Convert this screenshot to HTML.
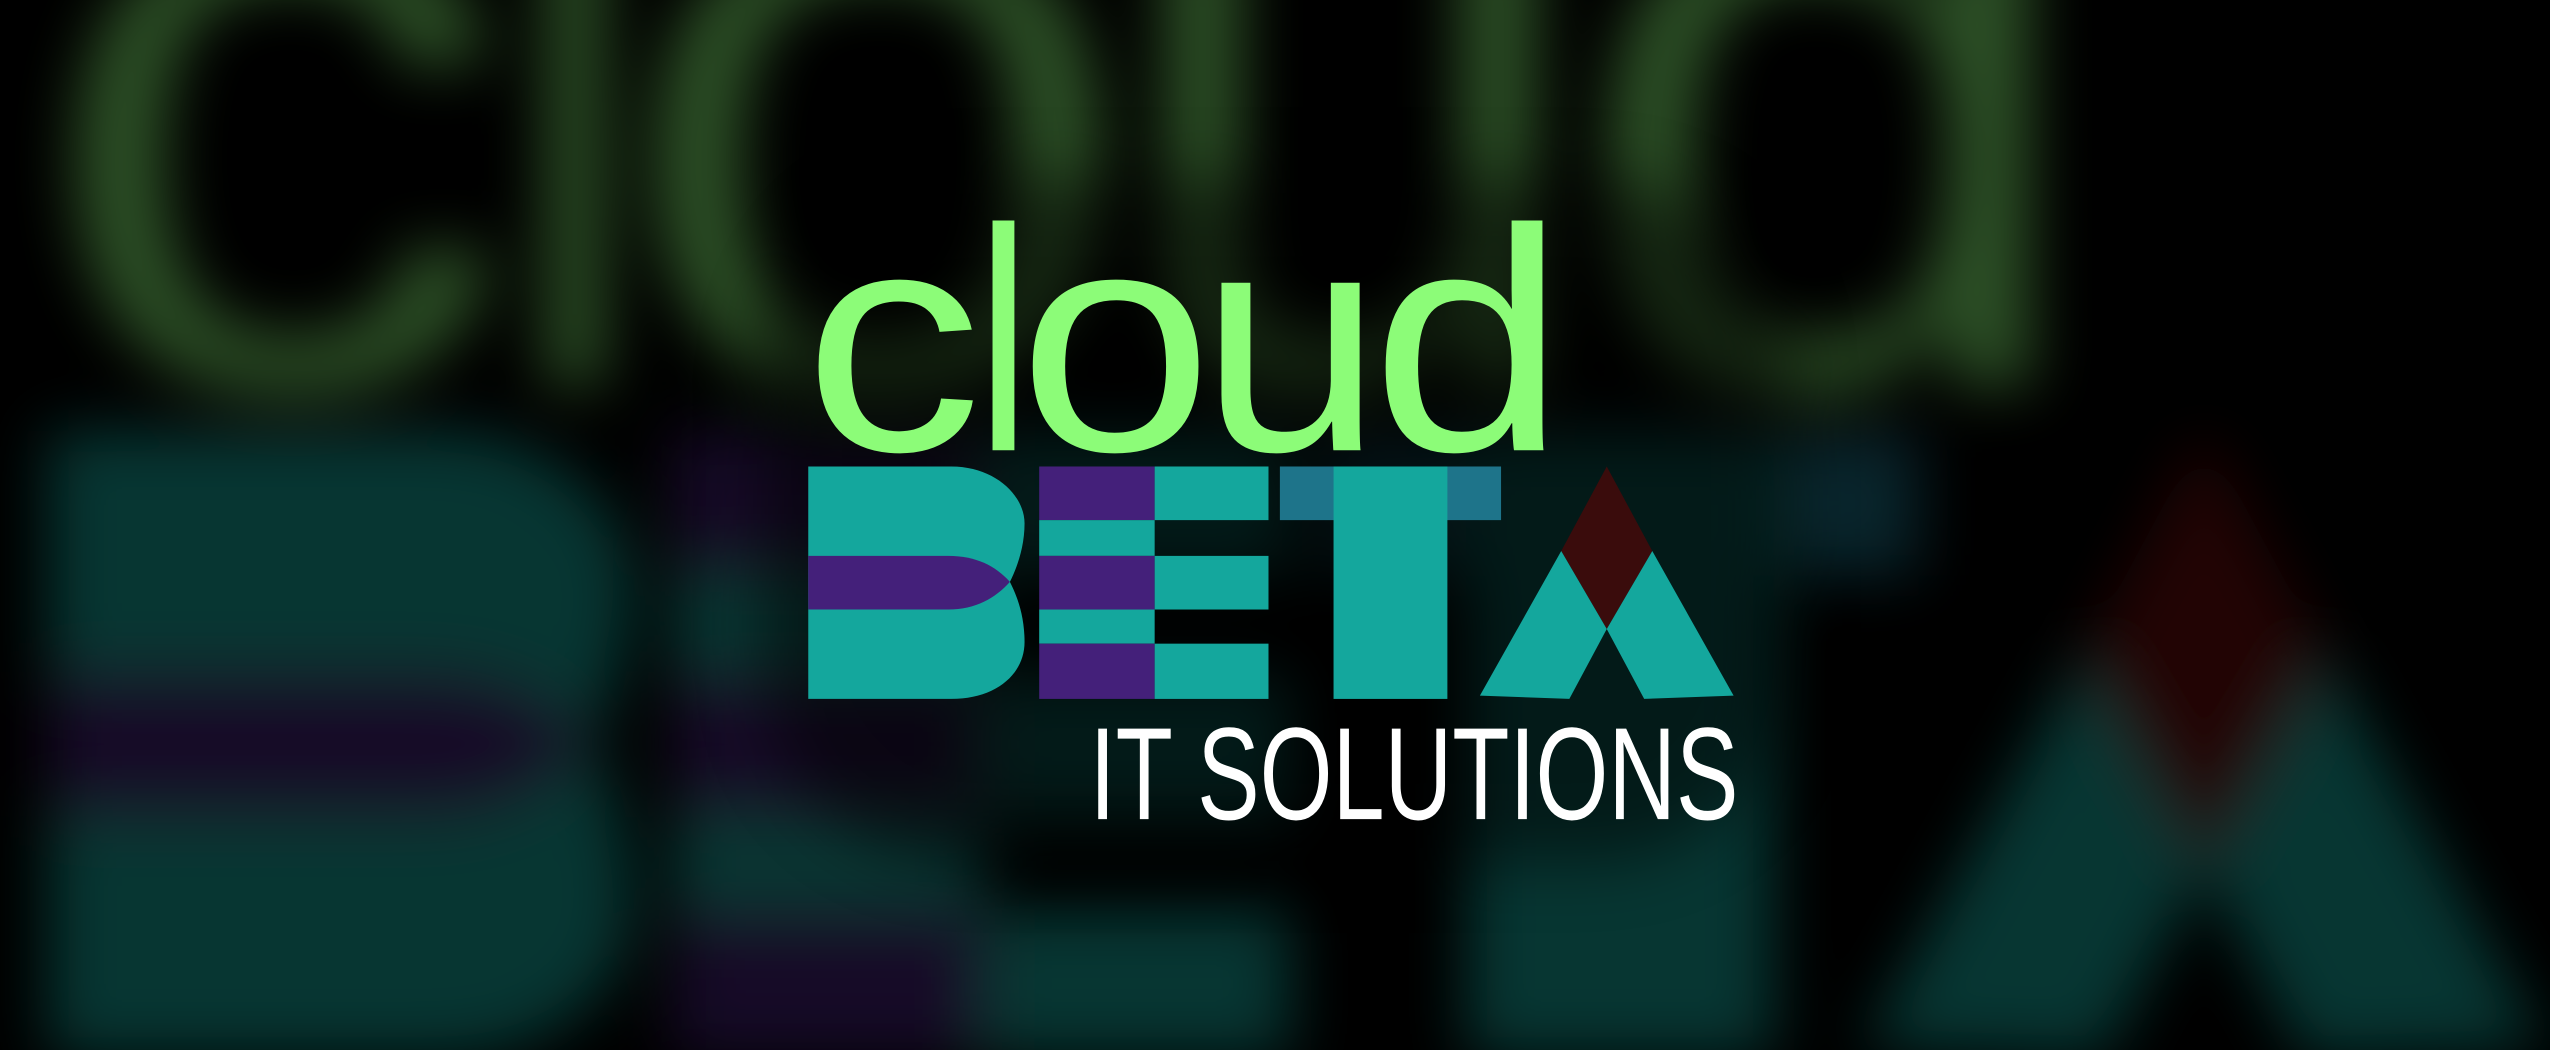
<!DOCTYPE html>
<html><head><meta charset="utf-8"><style>
html,body{margin:0;padding:0;background:#000;overflow:hidden;}
svg{display:block;}
</style></head><body>
<svg width="2550" height="1050" viewBox="0 0 1568 646" preserveAspectRatio="none" xmlns="http://www.w3.org/2000/svg">
<defs>
<filter id="bl" x="-20%" y="-20%" width="140%" height="140%"><feGaussianBlur stdDeviation="7"/></filter>
<filter id="sh" x="-20%" y="-20%" width="140%" height="140%"><feGaussianBlur stdDeviation="20"/></filter>
</defs>
<rect width="1568" height="646" fill="#000"/>
<g opacity="0.32" filter="url(#bl)" transform="translate(772 300) scale(2.7) translate(-772 -300)">
  <g font-family="Liberation Sans, sans-serif" font-size="195" fill="#8cfc78">
    <text x="494" y="277" textLength="110" lengthAdjust="spacingAndGlyphs">c</text>
    <text x="600" y="277" textLength="34" lengthAdjust="spacingAndGlyphs">l</text>
    <text x="626" y="277" textLength="120" lengthAdjust="spacingAndGlyphs">o</text>
    <text x="738" y="277" textLength="112" lengthAdjust="spacingAndGlyphs">u</text>
    <text x="843" y="277" textLength="120" lengthAdjust="spacingAndGlyphs">d</text>
  </g>
  <path d="M497,287 H585 C612,287 630,305 630,322 C630,337 625,350 621,358 C625,366 630,378 630,395 C630,415 612,430 585,430 H497Z" fill="#14a79d"/>
  <path d="M497,342 H583 C600,342 612,348 621,358 C612,368 600,375 583,375 H497Z" fill="#44207a"/>
  <rect x="639" y="287" width="71" height="33" fill="#44207a"/>
  <rect x="639" y="320" width="71" height="22" fill="#14a79d"/>
  <rect x="639" y="342" width="71" height="33" fill="#44207a"/>
  <rect x="639" y="375" width="71" height="21" fill="#14a79d"/>
  <rect x="639" y="396" width="71" height="34" fill="#44207a"/>
  <rect x="710" y="287" width="70" height="33" fill="#14a79d"/>
  <rect x="710" y="342" width="70" height="33" fill="#14a79d"/>
  <rect x="710" y="396" width="70" height="34" fill="#14a79d"/>
  <rect x="787" y="287" width="136" height="33" fill="#1e748a"/>
  <rect x="820" y="287" width="70" height="143" fill="#14a79d"/>
  <polygon points="988,287 1016,339 988,387 960,339" fill="#6a1010"/>
  <polygon points="960,339 988,387 965,430 910,428" fill="#14a79d"/>
  <polygon points="1016,339 1066,428 1011,430 988,387" fill="#14a79d"/>
</g>
<rect x="470" y="110" width="630" height="420" rx="120" fill="#000" opacity="0.5" filter="url(#sh)"/>
<g>
  <g font-family="Liberation Sans, sans-serif" font-size="195" fill="#8cfc78">
    <text x="494" y="277" textLength="110" lengthAdjust="spacingAndGlyphs">c</text>
    <text x="600" y="277" textLength="34" lengthAdjust="spacingAndGlyphs">l</text>
    <text x="626" y="277" textLength="120" lengthAdjust="spacingAndGlyphs">o</text>
    <text x="738" y="277" textLength="112" lengthAdjust="spacingAndGlyphs">u</text>
    <text x="843" y="277" textLength="120" lengthAdjust="spacingAndGlyphs">d</text>
  </g>
  <path d="M497,287 H585 C612,287 630,305 630,322 C630,337 625,350 621,358 C625,366 630,378 630,395 C630,415 612,430 585,430 H497Z" fill="#14a79d"/>
  <path d="M497,342 H583 C600,342 612,348 621,358 C612,368 600,375 583,375 H497Z" fill="#44207a"/>
  <rect x="639" y="287" width="71" height="33" fill="#44207a"/>
  <rect x="639" y="320" width="71" height="22" fill="#14a79d"/>
  <rect x="639" y="342" width="71" height="33" fill="#44207a"/>
  <rect x="639" y="375" width="71" height="21" fill="#14a79d"/>
  <rect x="639" y="396" width="71" height="34" fill="#44207a"/>
  <rect x="710" y="287" width="70" height="33" fill="#14a79d"/>
  <rect x="710" y="342" width="70" height="33" fill="#14a79d"/>
  <rect x="710" y="396" width="70" height="34" fill="#14a79d"/>
  <rect x="787" y="287" width="136" height="33" fill="#1e748a"/>
  <rect x="820" y="287" width="70" height="143" fill="#14a79d"/>
  <polygon points="988,287 1016,339 988,387 960,339" fill="#3a0c0c"/>
  <polygon points="960,339 988,387 965,430 910,428" fill="#14a79d"/>
  <polygon points="1016,339 1066,428 1011,430 988,387" fill="#14a79d"/>
  <text x="670" y="504" font-family="Liberation Sans, sans-serif" font-size="81" fill="#fff" textLength="399" lengthAdjust="spacingAndGlyphs">IT SOLUTIONS</text>
</g>
</svg>
</body></html>
